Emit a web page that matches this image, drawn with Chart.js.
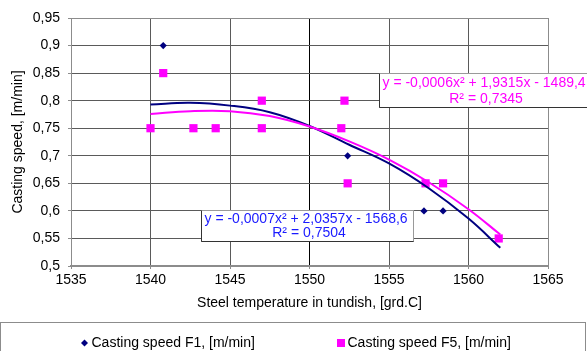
<!DOCTYPE html>
<html>
<head>
<meta charset="utf-8">
<script src="https://cdn.jsdelivr.net/npm/chart.js@4/dist/chart.umd.min.js"></script>
<style>
  html, body { margin: 0; padding: 0; background: #fff; }
  #wrap { width: 587px; height: 351px; position: relative; }
</style>
</head>
<body>
<div id="wrap"><canvas id="c" width="587" height="351"></canvas></div>
<script>
// ---- data ----
const f1Temp  = [1540.8, 1552.4, 1557.2, 1558.4];
const f1Speed = [0.90, 0.70, 0.60, 0.60];
const f5Temp  = [1540.0, 1540.8, 1542.7, 1544.1, 1547.0, 1547.0, 1552.0, 1552.2, 1552.4, 1557.3, 1558.4, 1561.9];
const f5Speed = [0.75, 0.85, 0.75, 0.75, 0.80, 0.75, 0.75, 0.80, 0.65, 0.65, 0.65, 0.55];
const trendTemp = [1540, 1542.5, 1545, 1547.5, 1550, 1552.5, 1555, 1557.5, 1560, 1562];
const f1Trend   = [0.793, 0.796, 0.791, 0.779, 0.754, 0.720, 0.686, 0.641, 0.586, 0.533];
const f5Trend   = [0.776, 0.781, 0.781, 0.772, 0.753, 0.726, 0.693, 0.652, 0.603, 0.557];
const xTickLabels = ['1535', '1540', '1545', '1550', '1555', '1560', '1565'];
const yTickLabels = ['0,5', '0,55', '0,6', '0,65', '0,7', '0,75', '0,8', '0,85', '0,9', '0,95'];
const seriesNames = ['Casting speed F1, [m/min]', 'Casting speed F5, [m/min]'];
const eqF1 = ['y = -0,0007x\u00B2 + 2,0357x - 1568,6', 'R\u00B2 = 0,7504'];
const eqF5 = ['y = -0,0006x\u00B2 + 1,9315x - 1489,4', 'R\u00B2 = 0,7345'];

const FONT = "'Liberation Sans', Arial, sans-serif";
const NAVY = '#000080';
const MAG = '#FF00FF';

const pts = (xs, ys) => xs.map((x, i) => ({ x: x, y: ys[i] }));

const extras = {
  id: 'extras',
  afterDatasetsDraw(chart) {
    const ctx = chart.ctx;
    const xs = chart.scales.x, ys = chart.scales.y;
    const drawBox = (x0v, y0v, x1v, y1v, lines, color, cx) => {
      const x0 = Math.round(xs.getPixelForValue(x0v)) + 0.5;
      const y0 = Math.round(ys.getPixelForValue(y0v)) + 0.5;
      const x1 = Math.round(xs.getPixelForValue(x1v)) + 0.5;
      const y1 = Math.round(ys.getPixelForValue(y1v)) + 0.5;
      ctx.save();
      ctx.fillStyle = '#fff';
      ctx.fillRect(x0, y0, x1 - x0, y1 - y0);
      ctx.strokeStyle = '#9a9a9a';
      ctx.lineWidth = 1;
      ctx.strokeRect(x0, y0, x1 - x0, y1 - y0);
      ctx.strokeStyle = '#333';
      ctx.beginPath();
      ctx.moveTo(x0, y0); ctx.lineTo(x0, y1); ctx.lineTo(x1, y1);
      ctx.stroke();
      ctx.fillStyle = color;
      ctx.font = '14px ' + FONT;
      ctx.textBaseline = 'middle';
      ctx.textAlign = 'left';
      ctx.fillText(lines[0], x0 + 3, y0 + (y1 - y0) * 0.27);
      ctx.textAlign = 'center';
      ctx.fillText(lines[1], cx, y0 + (y1 - y0) * 0.74);
      ctx.restore();
    };
    drawBox(1554.4, 0.850, 1568, 0.7885, eqF5, MAG, 486);
    drawBox(1543.2, 0.6016, 1556.5, 0.5453, eqF1, '#1a1aff', 309);
  },
  afterDraw(chart) {
    const ctx = chart.ctx;
    ctx.save();
    // legend frame
    ctx.strokeStyle = '#8c8c8c';
    ctx.lineWidth = 1;
    ctx.strokeRect(0.5, 322.5, 585, 40);
    // legend items
    ctx.font = '14px ' + FONT;
    ctx.textBaseline = 'middle';
    ctx.textAlign = 'left';
    const ly = 343;
    ctx.fillStyle = NAVY;
    ctx.beginPath();
    ctx.moveTo(84.5, ly - 3.5); ctx.lineTo(88, ly); ctx.lineTo(84.5, ly + 3.5); ctx.lineTo(81, ly);
    ctx.closePath(); ctx.fill();
    ctx.fillStyle = '#000';
    ctx.fillText(seriesNames[0], 91.5, ly);
    ctx.fillStyle = MAG;
    ctx.fillRect(337, ly - 4, 8, 8);
    ctx.fillStyle = '#000';
    ctx.fillText(seriesNames[1], 347.5, ly);
    ctx.restore();
  }
};

new Chart(document.getElementById('c'), {
  type: 'scatter',
  data: {
    datasets: [
      { label: 'F5 trend', type: 'line', data: pts(trendTemp, f5Trend), borderColor: MAG, borderWidth: 2,
        pointRadius: 0, tension: 0.4, fill: false, showLine: true },
      { label: 'F1 trend', type: 'line', data: pts(trendTemp, f1Trend), borderColor: NAVY, borderWidth: 2,
        pointRadius: 0, tension: 0.4, fill: false, showLine: true },
      { label: seriesNames[0], data: pts(f1Temp, f1Speed), pointStyle: 'rectRot', pointRadius: 3.6,
        backgroundColor: NAVY, borderColor: NAVY, borderWidth: 0 },
      { label: seriesNames[1], data: pts(f5Temp, f5Speed), pointStyle: 'rect', pointRadius: 5.8,
        backgroundColor: MAG, borderColor: MAG, borderWidth: 0 }
    ]
  },
  options: {
    responsive: false,
    animation: false,
    devicePixelRatio: 1,
    layout: { padding: { top: 18, right: 39, bottom: 29, left: 0 } },
    plugins: { legend: { display: false }, tooltip: { enabled: false } },
    scales: {
      x: {
        type: 'linear', min: 1535, max: 1565,
        afterFit: s => { s.height = 56; },
        ticks: { stepSize: 5, padding: 3, color: '#000', font: { family: FONT, size: 14 },
                 callback: (v, i) => xTickLabels[i] },
        grid: { color: c => c.tick && c.tick.value === 1550 ? '#000' : (c.tick && c.tick.value === 1565 ? '#8c8c8c' : '#5a5a5a'),
                lineWidth: 1, tickLength: 3, drawTicks: true, tickColor: '#8c8c8c' },
        border: { color: '#8c8c8c', width: 2 },
        title: { display: true, text: 'Steel temperature in tundish, [grd.C]', color: '#000',
                 font: { family: FONT, size: 14 }, padding: { top: 0, bottom: 10 } }
      },
      y: {
        min: 0.5, max: 0.95,
        afterFit: s => { s.width = 71; },
        ticks: { stepSize: 0.05, padding: 8, color: '#000', font: { family: FONT, size: 14 },
                 callback: (v, i) => yTickLabels[i] },
        grid: { color: c => c.tick && Math.abs(c.tick.value - 0.95) < 1e-6 ? '#8c8c8c' : '#5a5a5a',
                lineWidth: 1, tickLength: 3, tickColor: '#8c8c8c' },
        border: { color: '#8c8c8c', width: 1 },
        title: { display: true, text: 'Casting speed, [m/min]', color: '#000',
                 font: { family: FONT, size: 14 }, padding: { top: 10, bottom: 0 } }
      }
    }
  },
  plugins: [extras]
});
</script>
</body>
</html>
